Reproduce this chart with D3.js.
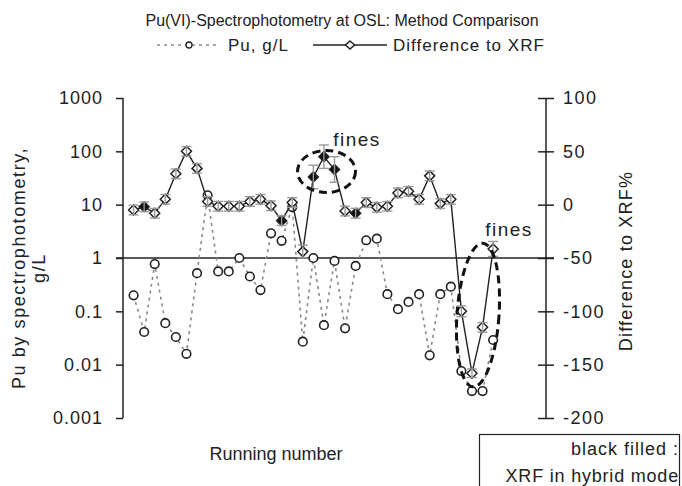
<!DOCTYPE html>
<html>
<head>
<meta charset="utf-8">
<script src="https://cdn.jsdelivr.net/npm/d3@7"></script>
<style>
  body { margin: 0; background: #fff; }
  text { font-family: "Liberation Sans", Arial, sans-serif; fill: #222; }
</style>
</head>
<body>
<script>
// running number 1..35
const runs = d3.range(1, 36)

// Pu by spectrophotometry, g/L
const pu = [0.2, 0.041, 0.77, 0.06, 0.033, 0.016, 0.52, 15, 0.56, 0.56,
    1.0, 0.45, 0.25, 2.9, 2.1, 9, 0.027, 1.0, 0.055, 0.88,
    0.048, 0.71, 2.15, 2.3, 0.21, 0.11, 0.15, 0.21, 0.015, 0.21,
    0.29, 0.0076, 0.0032, 0.0032, 0.029]

// Difference to XRF, %
const diff = [-5, -2, -8, 5, 29, 50, 34, 3, -1.5, -1.5,
    -1.5, 3, 5, -1, -15, 2, -44, 26, 45, 33,
    -6, -8, 2, -2.5, -1.5, 11, 12.5, 5, 27, 1,
    5, -100, -158, -115, -41.5]

// error bars on the difference
const diffErr = [4.5, 4.5, 4.5, 4.5, 4.5, 4.5, 4.5, 4.5, 4.5, 4.5,
    4.5, 4.5, 4.5, 4.5, 4.5, 4.5, 6, 11, 11, 12,
    4.5, 4.5, 4.5, 4.5, 4.5, 4.5, 4.5, 4.5, 4.5, 4.5,
    4.5, 5, 4, 4.5, 7]

// black filled = XRF in hybrid mode
const hybrid = [2, 15, 18, 19, 20, 22]

const leftTicks = [0.001, 0.01, 0.1, 1, 10, 100, 1000]
const leftTickLabels = ["0.001", "0.01", "0.1", "1", "10", "100", "1000"]
const rightTicks = [-200, -150, -100, -50, 0, 50, 100]

const svg = d3.select("body")
    .append("svg")
    .attr("width", 682)
    .attr("height", 486)

const x = d3.scaleLinear().domain([0, 40]).range([123, 546])
const yL = d3.scaleLog().domain([0.001, 1000]).range([418, 98])
const yR = d3.scaleLinear().domain([-200, 100]).range([418, 98])

// title
svg.append("text")
    .attr("x", 342)
    .attr("y", 26)
    .attr("text-anchor", "middle")
    .style("font-size", "16px")
    .text("Pu(VI)-Spectrophotometry at OSL: Method Comparison")

// legend
const lg = svg.append("g").attr("transform", "translate(0,45)")
lg.append("line").attr("x1", 157).attr("x2", 220).attr("y1", 0).attr("y2", 0)
    .attr("stroke", "#888").attr("stroke-width", 1.5).attr("stroke-dasharray", "3,4")
lg.append("circle").attr("cx", 189).attr("cy", 0).attr("r", 3)
    .attr("fill", "#fff").attr("stroke", "#222").attr("stroke-width", 1.3)
lg.append("text").attr("x", 228).attr("y", 6).style("font-size", "17px")
    .style("letter-spacing", "1px").text("Pu, g/L")
lg.append("line").attr("x1", 313).attr("x2", 387).attr("y1", 0).attr("y2", 0)
    .attr("stroke", "#222").attr("stroke-width", 1.3)
lg.append("path").attr("d", "M0,-4L4.5,0L0,4L-4.5,0Z").attr("transform", "translate(350,0)")
    .attr("fill", "#fff").attr("stroke", "#222").attr("stroke-width", 1.5)
lg.append("text").attr("x", 393).attr("y", 6).style("font-size", "17px")
    .style("letter-spacing", "1px").text("Difference to XRF")

// left axis (log)
const axL = svg.append("g")
    .attr("transform", "translate(123,0)")
    .call(d3.axisLeft(yL).tickValues(leftTicks).tickSize(7).tickPadding(13)
        .tickFormat((d, i) => leftTickLabels[i]))
axL.select(".domain").attr("stroke", "#222").attr("stroke-width", 1.5).attr("d", "M0,98V418")
axL.selectAll(".tick line").attr("stroke", "#222").attr("stroke-width", 1.5)
axL.selectAll(".tick text")
    .style("font-size", "18px").style("letter-spacing", "1px")
    .style("font-family", "'Liberation Sans', Arial, sans-serif").attr("fill", "#222")

// right axis (plain hyphen for negatives)
const axR = svg.append("g")
    .attr("transform", "translate(546,0)")
    .call(d3.axisRight(yR).tickValues(rightTicks).tickSize(8).tickPadding(9)
        .tickFormat(d => String(d)))
axR.select(".domain").attr("stroke", "#222").attr("stroke-width", 1.5).attr("d", "M0,98V418")
axR.selectAll(".tick line").attr("stroke", "#222").attr("stroke-width", 1.5).attr("x1", -8)
axR.selectAll(".tick text")
    .style("font-size", "18px").style("letter-spacing", "1.5px")
    .style("font-family", "'Liberation Sans', Arial, sans-serif").attr("fill", "#222")

// horizontal category axis crossing at 1 g/L
svg.append("line")
    .attr("x1", 116).attr("x2", 554)
    .attr("y1", yL(1)).attr("y2", yL(1))
    .attr("stroke", "#222").attr("stroke-width", 1.5)

// axis titles
svg.append("text")
    .attr("transform", "translate(25," + 268 + ") rotate(-90)")
    .attr("text-anchor", "middle")
    .style("font-size", "18px").style("letter-spacing", "1.6px")
    .text("Pu by spectrophotometry,")
svg.append("text")
    .attr("transform", "translate(45," + 268 + ") rotate(-90)")
    .attr("text-anchor", "middle")
    .style("font-size", "18px").style("letter-spacing", "1.6px")
    .text("g/L")
svg.append("text")
    .attr("transform", "translate(632," + 261 + ") rotate(-90)")
    .attr("text-anchor", "middle")
    .style("font-size", "18px").style("letter-spacing", "1.2px")
    .text("Difference to XRF%")
svg.append("text")
    .attr("x", 276).attr("y", 460)
    .attr("text-anchor", "middle")
    .style("font-size", "18px")
    .text("Running number")

// Pu series: dashed grey line with open circles
const puLine = d3.line().x((d, i) => x(runs[i])).y(d => yL(d))
svg.append("path")
    .datum(pu)
    .attr("d", puLine)
    .attr("fill", "none")
    .attr("stroke", "#888")
    .attr("stroke-width", 1.6)
    .attr("stroke-dasharray", "3,4")

svg.selectAll(".pu")
    .data(pu)
    .enter()
    .append("circle")
    .attr("class", "pu")
    .attr("cx", (d, i) => x(runs[i]))
    .attr("cy", d => yL(d))
    .attr("r", 4.3)
    .attr("fill", "#fff")
    .attr("stroke", "#222")
    .attr("stroke-width", 1.6)

// difference series: solid black line with diamonds
const diffLine = d3.line().x((d, i) => x(runs[i])).y(d => yR(d))
svg.append("path")
    .datum(diff)
    .attr("d", diffLine)
    .attr("fill", "none")
    .attr("stroke", "#222")
    .attr("stroke-width", 1.4)

svg.selectAll(".dia")
    .data(diff)
    .enter()
    .append("path")
    .attr("class", "dia")
    .attr("d", "M0,-5L5,0L0,5L-5,0Z")
    .attr("transform", (d, i) => "translate(" + x(runs[i]) + "," + yR(d) + ")")
    .attr("fill", (d, i) => hybrid.includes(runs[i]) ? "#111" : "#fff")
    .attr("stroke", "#222")
    .attr("stroke-width", 1.5)

// error bars
const eb = svg.selectAll(".eb")
    .data(diff)
    .enter()
    .append("g")
    .attr("class", "eb")
    .attr("stroke", "#999")
    .attr("stroke-width", 1.4)
eb.append("line")
    .attr("x1", (d, i) => x(runs[i])).attr("x2", (d, i) => x(runs[i]))
    .attr("y1", (d, i) => yR(d + diffErr[i])).attr("y2", (d, i) => yR(d - diffErr[i]))
eb.append("line")
    .attr("x1", (d, i) => x(runs[i]) - 5).attr("x2", (d, i) => x(runs[i]) + 5)
    .attr("y1", (d, i) => yR(d + diffErr[i])).attr("y2", (d, i) => yR(d + diffErr[i]))
eb.append("line")
    .attr("x1", (d, i) => x(runs[i]) - 5).attr("x2", (d, i) => x(runs[i]) + 5)
    .attr("y1", (d, i) => yR(d - diffErr[i])).attr("y2", (d, i) => yR(d - diffErr[i]))

// dashed ellipses around the "fines" samples
svg.append("ellipse")
    .attr("cx", 326.5).attr("cy", 171.5).attr("rx", 29).attr("ry", 21)
    .attr("fill", "none").attr("stroke", "#111").attr("stroke-width", 3)
    .attr("stroke-dasharray", "8,5")
svg.append("ellipse")
    .attr("transform", "translate(478,315) rotate(4)")
    .attr("rx", 21).attr("ry", 72)
    .attr("fill", "none").attr("stroke", "#111").attr("stroke-width", 3)
    .attr("stroke-dasharray", "8,5")

svg.append("text").attr("x", 357).attr("y", 146).attr("text-anchor", "middle")
    .style("font-size", "19px").style("letter-spacing", "1.5px").text("fines")
svg.append("text").attr("x", 509).attr("y", 236).attr("text-anchor", "middle")
    .style("font-size", "19px").style("letter-spacing", "1.5px").text("fines")

// note box
svg.append("rect")
    .attr("x", 479.5).attr("y", 434.5).attr("width", 200).attr("height", 60)
    .attr("fill", "#fff").attr("stroke", "#222").attr("stroke-width", 1.2)
svg.append("text").attr("x", 679).attr("y", 455).attr("text-anchor", "end")
    .style("font-size", "18px").style("letter-spacing", "1px").text("black filled :")
svg.append("text").attr("x", 679).attr("y", 482).attr("text-anchor", "end")
    .style("font-size", "18px").style("letter-spacing", "0.8px").text("XRF in hybrid mode")
</script>
</body>
</html>
